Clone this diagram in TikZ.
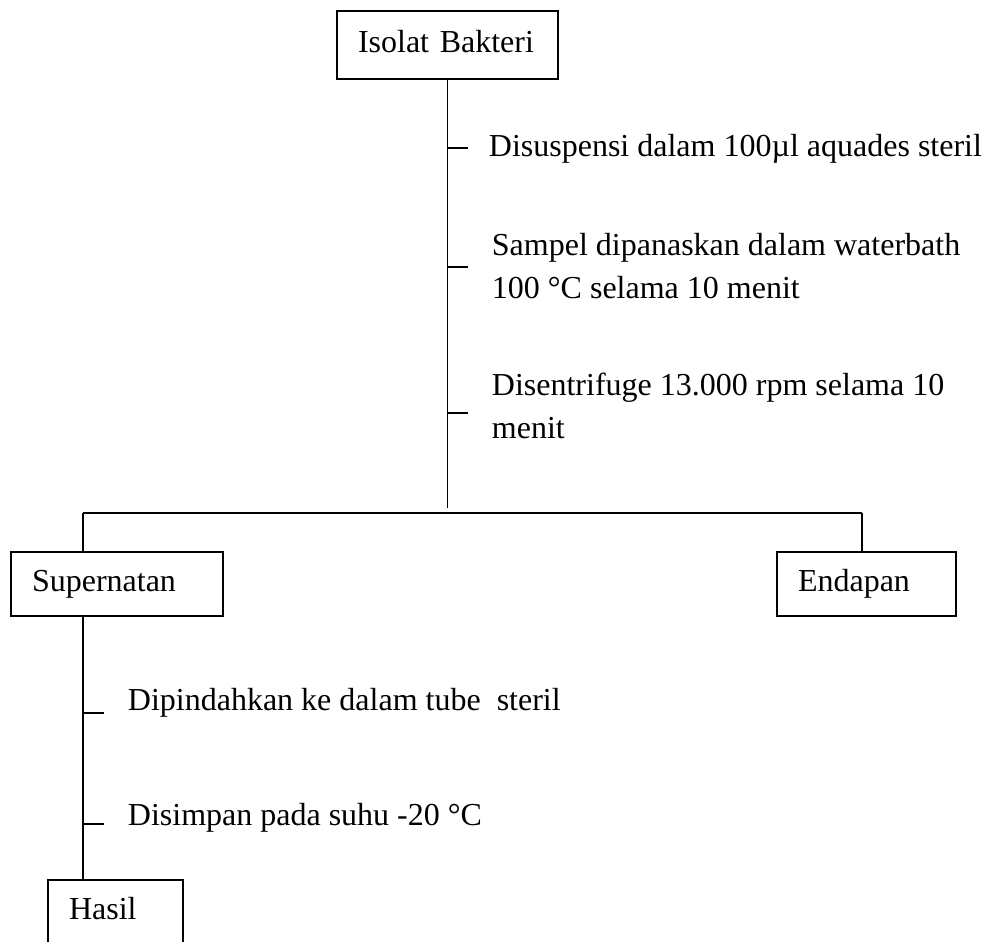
\documentclass[tikz,border=0pt]{standalone}
\usepackage{fontspec}
\setmainfont{Liberation Serif}
\usepackage{tikz}
\begin{document}
\begin{tikzpicture}[x=0.75pt,y=-0.75pt,line width=1.4pt,
      font=\fontsize{24}{32}\selectfont,
      box/.style={draw,inner xsep=15.75pt,inner ysep=0pt,minimum height=48pt,
                  text height=17pt,text depth=6pt,align=left},
      note/.style={anchor=base west,inner sep=0pt,align=left}]
    \useasboundingbox (0,0) rectangle (987,941);
    \node[box,text width=134.25pt,minimum height=51pt] (isolat) at (447.5,45) {Isolat Bakteri};
    \node[box,text width=127.5pt] (super) at (117,584) {Supernatan};
    \node[box,text width=102.75pt] (endapan) at (866.5,584) {Endapan};
    \node[box,text width=69.75pt] (hasil) at (115.5,912) {Hasil};
    \coordinate (mainend) at (447.5,508);
    \coordinate (jL) at (83,513);
    \coordinate (jR) at (862,513);
    \draw (isolat.south) -- (mainend);
    \draw (jL) -- (jR);
    \draw (jL) -- (jL |- super.north);
    \draw (jR) -- (jR |- endapan.north);
    \draw (super.south -| jL) -- (hasil.north -| jL);
    \foreach \y in {148,267,413}
      \draw (447.5,\y) -- ++(20,0);
    \foreach \y in {713,824}
      \draw (83,\y) -- ++(21,0);
    \node[note] (susp) at (488,157) {Disuspensi dalam 100µl aquades steril};
    \node[note] (panas) at (491,298) {Sampel dipanaskan dalam waterbath\\100 °C selama 10 menit};
    \node[note] (sentri) at (491,438) {Disentrifuge 13.000 rpm selama 10\\menit};
    \node[note] (pindah) at (127,710) {Dipindahkan ke dalam tube\ \ steril};
    \node[note] (simpan) at (127,825) {Disimpan pada suhu -20 °C};
  \end{tikzpicture}
\end{document}
